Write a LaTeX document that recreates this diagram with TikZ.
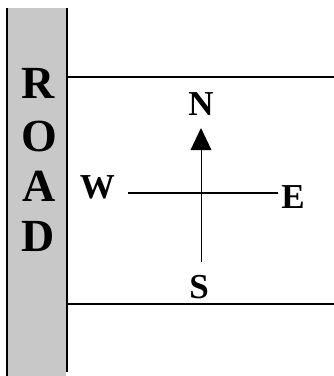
\documentclass[tikz,border=0pt]{standalone}
\usepackage{fontspec}
\setmainfont{Liberation Serif}
\begin{document}
\begin{tikzpicture}[x=1pt,y=-1pt,
  roadletter/.style={font=\fontsize{46}{46}\selectfont\bfseries, inner sep=0pt},
  dirletter/.style={font=\fontsize{35}{35}\selectfont\bfseries, inner sep=0pt},
  thickline/.style={line width=2pt, black},
  thinline/.style={line width=1pt, black}]
\useasboundingbox (0,0) rectangle (334,376);
\fill[fill={rgb,255:red,200;green,200;blue,200}] (7,8) rectangle (66,376);
\coordinate (roadTL) at (6.5,8);
\coordinate (roadBL) at (6.5,376);
\coordinate (roadTR) at (66.5,8);
\coordinate (roadBR) at (66.5,372);
\draw[thickline] (roadTL) -- (roadBL);
\draw[thickline] (roadTR) -- (roadBR);
\coordinate (topL) at (66,77);
\coordinate (topR) at (334,77);
\coordinate (botL) at (66,304);
\coordinate (botR) at (334,304);
\draw[thickline] (topL) -- (topR);
\draw[thickline] (botL) -- (botR);
\node[roadletter] (R) at (38.5,83) {R};
\node[roadletter] (O) at (39,136) {O};
\node[roadletter] (A) at (39,186) {A};
\node[roadletter] (D) at (38.5,236.5) {D};
\node[dirletter] (N) at (201,104) {N};
\node[dirletter] (S) at (199,287.5) {S};
\node[dirletter] (W) at (97.5,187.5) {W};
\node[dirletter] (E) at (293,197) {E};
\coordinate (wEnd) at (128,193);
\coordinate (eEnd) at (278,193);
\coordinate (sEnd) at (201,262);
\coordinate (nEnd) at (201,149);
\coordinate (tip) at (201,128);
\draw[thickline] (wEnd) -- (eEnd);
\draw[thinline] (sEnd) -- (nEnd);
\fill[black] (tip) -- (190.5,150) -- (211.5,150) -- cycle;
\end{tikzpicture}
\end{document}
